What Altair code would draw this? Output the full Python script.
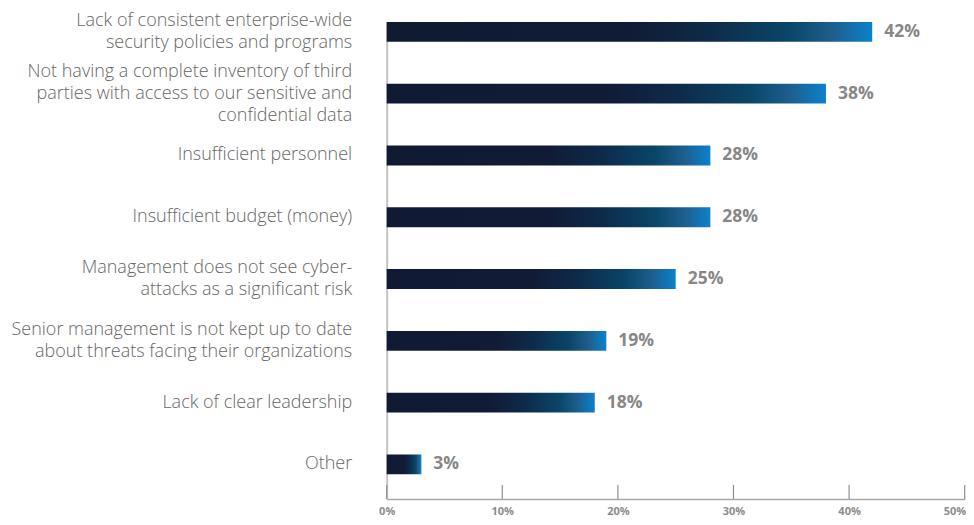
import altair as alt
import pandas as pd

categories = [
    "Lack of consistent enterprise-wide|security policies and programs",
    "Not having a complete inventory of third|parties with access to our sensitive and|confidential data",
    "Insufficient personnel",
    "Insufficient budget (money)",
    "Management does not see cyber-|attacks as a significant risk",
    "Senior management is not kept up to date|about threats facing their organizations",
    "Lack of clear leadership",
    "Other",
]
values = [42, 38, 28, 28, 25, 19, 18, 3]
value_labels = ["42%", "38%", "28%", "28%", "25%", "19%", "18%", "3%"]
tick_values = [0, 10, 20, 30, 40, 50]

df = pd.DataFrame({"category": categories, "value": values, "label": value_labels})
ticks_df = pd.DataFrame({"t": tick_values})

H = 477
W = 578
LH = 22
TOP = 14
LEFT = 378.7
BOTTOM = 18

gradient = {
    "gradient": "linear",
    "x1": 0, "y1": 0, "x2": 1, "y2": 0,
    "stops": [
        {"offset": 0.0, "color": "#111a33"},
        {"offset": 0.5, "color": "#111b36"},
        {"offset": 0.67, "color": "#0e2b4b"},
        {"offset": 0.83, "color": "#0a4668"},
        {"offset": 0.92, "color": "#1e5f8f"},
        {"offset": 1.0, "color": "#0a82cc"},
    ],
}

y_enc = alt.Y(
    "category:N",
    sort=categories,
    title=None,
    scale=alt.Scale(paddingInner=0.679, paddingOuter=0.2, align=0),
    axis=alt.Axis(
        labelExpr="split(datum.label, '|')",
        labelFont="Open Sans",
        labelFontWeight=300,
        labelFontSize=18,
        labelColor="#666666",
        labelPadding=35,
        labelLineHeight=LH,
        labelLimit=400,
        labelOffset={
            "condition": [
                {"test": "length(split(datum.value, '|')) == 3", "value": -LH},
                {"test": "length(split(datum.value, '|')) == 2", "value": -LH / 2},
            ],
            "value": 0,
        },
        ticks=False,
        domainColor="#c4c4c4",
        domainWidth=2,
    ),
)

x_enc = alt.X(
    "value:Q",
    title=None,
    scale=alt.Scale(domain=[0, 50], nice=False),
    axis=alt.Axis(
        values=tick_values,
        labelExpr="datum.value + '%'",
        labelFont="Open Sans",
        labelFontWeight="bold",
        labelFontSize=11,
        labelColor="#8c8c8c",
        labelPadding=7,
        labelFlush=False,
        labelAlign={
            "condition": {"test": "datum.value == 50", "value": "right"},
            "value": "center",
        },
        labelOffset={
            "condition": {"test": "datum.value == 50", "value": 1},
            "value": 0,
        },
        ticks=False,
        domainColor="#a8a8a8",
        domainWidth=1.5,
        grid=False,
    ),
)

bars = alt.Chart(df).mark_bar(color=gradient, cornerRadius=0).encode(
    x=x_enc,
    y=y_enc,
)

text = alt.Chart(df).mark_text(
    align="left",
    baseline="middle",
    dx=12,
    font="Open Sans",
    fontWeight="bold",
    fontSize=17.5,
    color="#878787",
).encode(
    x="value:Q",
    y=alt.Y("category:N", sort=categories),
    text="label:N",
)

tick_marks = alt.Chart(ticks_df).mark_rule(color="#8f8f8f", strokeWidth=1.2).encode(
    x=alt.X("t:Q"),
    y=alt.value(H - 14),
    y2=alt.value(H),
)

chart = (
    alt.layer(bars, text, tick_marks)
    .properties(
        width=W,
        height=H,
        autosize=alt.AutoSizeParams(type="none"),
        padding={"left": LEFT, "top": TOP, "right": 1, "bottom": BOTTOM},
    )
    .configure_view(stroke=None)
)

chart.save("out.html", embed_options={"renderer": "svg", "actions": False})
